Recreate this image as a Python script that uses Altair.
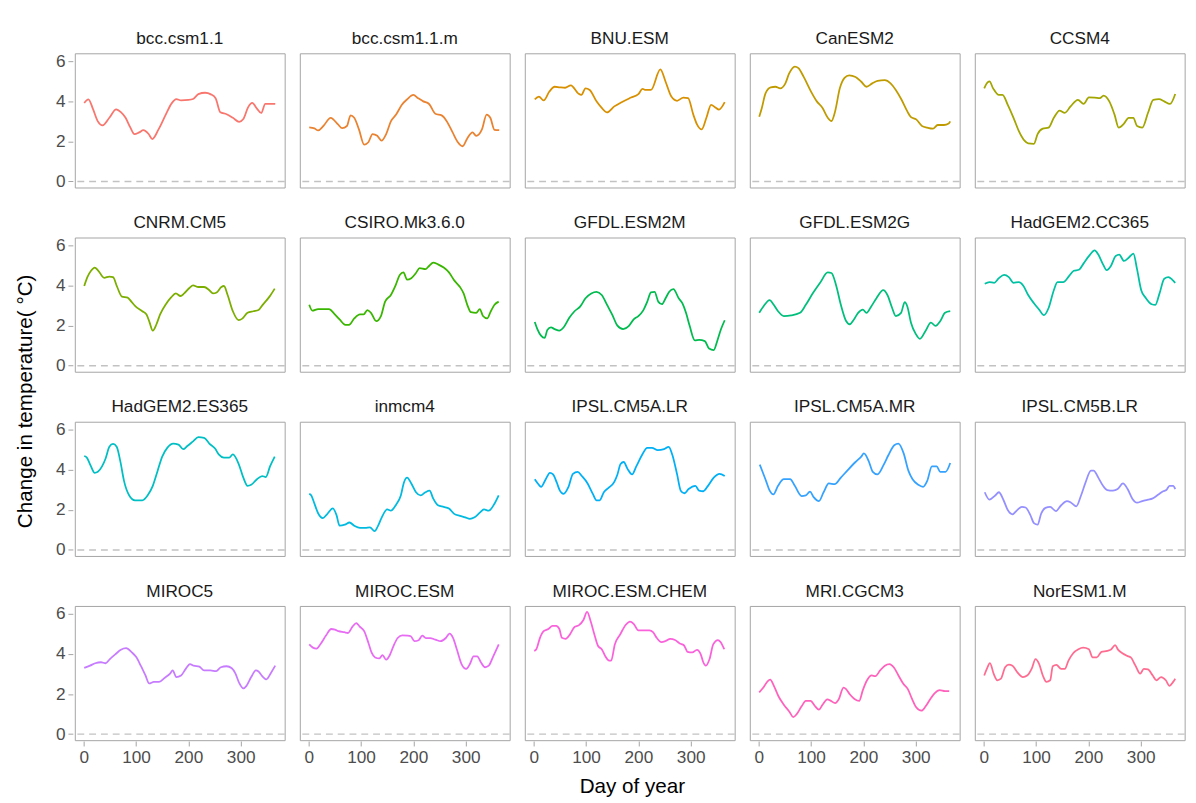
import altair as alt
import pandas as pd

models = ["bcc.csm1.1", "bcc.csm1.1.m", "BNU.ESM", "CanESM2", "CCSM4",
          "CNRM.CM5", "CSIRO.Mk3.6.0", "GFDL.ESM2M", "GFDL.ESM2G", "HadGEM2.CC365",
          "HadGEM2.ES365", "inmcm4", "IPSL.CM5A.LR", "IPSL.CM5A.MR", "IPSL.CM5B.LR",
          "MIROC5", "MIROC.ESM", "MIROC.ESM.CHEM", "MRI.CGCM3", "NorESM1.M"]

colors = ["#F8766D", "#EA8331", "#D89000", "#C09B00", "#A3A500",
          "#7CAE00", "#39B600", "#00BB4E", "#00BF7D", "#00C1A3",
          "#00BFC4", "#00BAE0", "#00B0F6", "#35A2FF", "#9590FF",
          "#C77CFF", "#E76BF3", "#FA62DB", "#FF62BC", "#FF6C91"]

x_ticks = [0, 100, 200, 300]
y_ticks = [0, 2, 4, 6]
x_title = "Day of year"
y_title = "Change in temperature( °C)"

# (day of year, change in temperature)
bcc_csm1_1 = [(1,3.92),(9,4.1),(18,3.6),(27,3.0),(36,2.8),(49,3.18),(62,3.6),(71,3.46),(80,3.18),(89,2.7),(97,2.36),(106,2.45),(114,2.56),(124,2.37),(131,2.12),(143,2.6),(157,3.35),(168,3.9),(177,4.11),(186,4.05),(200,4.07),(209,4.12),(219,4.36),(232,4.43),(243,4.35),(252,4.16),(261,3.46),(273,3.36),(285,3.18),(297,2.98),(305,3.12),(314,3.7),(322,3.92),(331,3.64),(339,3.42),(347,3.88),(358,3.88),(366,3.87)]
bcc_csm1_1_m = [(1,2.7),(11,2.65),(18,2.55),(28,2.77),(42,3.18),(56,2.85),(64,2.66),(73,2.77),(80,3.3),(87,3.18),(96,2.6),(106,1.84),(114,1.96),(122,2.37),(131,2.28),(139,2.04),(148,2.37),(157,3.0),(167,3.34),(178,3.83),(188,4.1),(200,4.32),(209,4.16),(219,4.0),(230,3.87),(242,3.38),(254,3.3),(264,3.0),(275,2.45),(285,1.96),(294,1.76),(303,2.15),(313,2.45),(320,2.28),(331,2.6),(340,3.34),(347,3.18),(355,2.58),(364,2.56)]
BNU_ESM = [(2,4.1),(10,4.24),(19,4.05),(30,4.49),(40,4.73),(50,4.7),(60,4.68),(71,4.8),(85,4.4),(91,4.32),(99,4.65),(107,4.57),(120,4.0),(130,3.67),(140,3.45),(154,3.75),(168,3.96),(186,4.19),(200,4.36),(208,4.62),(214,4.57),(224,4.57),(242,5.6),(252,4.98),(263,4.24),(274,4.03),(286,4.19),(295,4.16),(305,3.34),(312,2.85),(321,2.6),(330,3.18),(339,3.83),(347,3.7),(354,3.59),(365,3.96)]
CanESM2 = [(1,3.23),(6,3.67),(13,4.4),(23,4.7),(32,4.73),(41,4.65),(51,4.9),(58,5.38),(69,5.74),(76,5.66),(86,5.22),(100,4.49),(111,4.0),(122,3.67),(132,3.18),(139,3.02),(146,3.5),(155,4.65),(164,5.17),(173,5.3),(185,5.22),(196,4.98),(206,4.73),(217,4.9),(227,5.02),(241,5.06),(252,4.9),(262,4.57),(273,4.08),(284,3.5),(291,3.21),(301,3.1),(312,2.77),(322,2.69),(333,2.64),(342,2.82),(354,2.82),(363,2.89),(366,3.0)]
CCSM4 = [(1,4.65),(6,4.9),(11,5.0),(18,4.65),(29,4.32),(36,4.32),(46,3.83),(57,3.18),(67,2.53),(78,2.04),(85,1.9),(96,1.88),(103,2.37),(113,2.64),(124,2.69),(134,3.18),(145,3.54),(155,3.43),(166,3.75),(180,4.08),(191,3.87),(201,4.2),(212,4.19),(222,4.16),(229,4.29),(240,4.0),(250,3.34),(258,2.69),(268,2.89),(277,3.18),(286,3.18),(293,2.77),(303,2.69),(314,3.43),(324,4.08),(335,4.11),(345,4.0),(356,3.87),(366,4.37)]
CNRM_CM5 = [(1,3.98),(7,4.42),(14,4.74),(21,4.9),(28,4.74),(39,4.39),(49,4.45),(56,4.42),(64,3.93),(73,3.45),(84,3.4),(91,3.2),(99,2.96),(112,2.72),(120,2.56),(126,2.15),(132,1.75),(139,2.07),(146,2.56),(157,3.07),(167,3.41),(176,3.61),(185,3.48),(192,3.61),(202,3.88),(209,4.01),(219,3.93),(230,3.93),(240,3.77),(247,3.61),(254,3.66),(263,3.93),(268,3.98),(275,3.53),(285,2.72),(296,2.28),(303,2.35),(313,2.64),(324,2.72),(334,2.78),(342,3.04),(355,3.45),(365,3.85)]
CSIRO_Mk3_6_0 = [(1,3.04),(7,2.75),(18,2.83),(28,2.83),(39,2.82),(49,2.59),(59,2.31),(70,2.04),(77,2.04),(87,2.36),(98,2.56),(105,2.56),(112,2.78),(119,2.64),(129,2.23),(138,2.48),(146,3.2),(157,3.53),(166,4.01),(174,4.53),(181,4.66),(188,4.3),(196,4.37),(205,4.63),(212,4.87),(223,4.82),(230,4.98),(238,5.15),(247,5.06),(258,4.9),(268,4.66),(278,4.26),(289,3.93),(296,3.61),(303,3.04),(310,2.67),(320,2.64),(327,2.83),(333,2.48),(341,2.36),(348,2.72),(355,3.04),(363,3.2)]
GFDL_ESM2M = [(2,2.18),(7,1.83),(14,1.5),(21,1.39),(26,1.78),(33,1.91),(40,1.83),(49,1.75),(57,1.91),(68,2.39),(78,2.72),(89,2.96),(99,3.37),(110,3.61),(120,3.69),(130,3.53),(141,3.0),(150,2.55),(160,2.0),(171,1.83),(182,1.99),(191,2.31),(200,2.48),(209,2.75),(217,3.2),(224,3.66),(231,3.69),(238,3.2),(245,3.07),(252,3.37),(259,3.69),(267,3.82),(277,3.37),(284,3.12),(291,2.64),(298,1.99),(308,1.26),(316,1.29),(327,1.23),(335,0.86),(344,0.78),(351,1.26),(358,1.83),(365,2.27)]
GFDL_ESM2G = [(1,2.64),(9,2.96),(21,3.28),(28,3.07),(37,2.72),(48,2.48),(62,2.51),(79,2.64),(90,3.04),(104,3.64),(118,4.17),(132,4.66),(139,4.63),(148,4.01),(157,3.04),(167,2.23),(174,2.07),(182,2.31),(190,2.64),(199,2.8),(206,2.64),(215,2.96),(225,3.37),(238,3.77),(246,3.53),(255,2.88),(262,2.48),(272,2.64),(279,3.17),(284,2.96),(291,2.15),(300,1.59),(308,1.34),(319,1.75),(329,2.15),(338,1.99),(347,2.23),(356,2.64),(366,2.72)]
HadGEM2_CC365 = [(2,4.09),(11,4.17),(20,4.14),(29,4.37),(39,4.53),(48,4.42),(57,4.14),(67,4.17),(76,3.98),(85,3.53),(96,3.12),(106,2.8),(115,2.52),(124,2.88),(134,3.77),(141,4.17),(152,4.17),(163,4.47),(172,4.74),(182,4.79),(191,5.11),(201,5.47),(212,5.76),(219,5.55),(228,5.06),(235,4.77),(243,4.98),(252,5.47),(259,5.55),(268,5.23),(277,5.39),(286,5.6),(293,4.82),(301,3.77),(310,3.37),(321,3.07),(328,3.04),(336,3.61),(345,4.34),(353,4.42),(360,4.3),(366,4.14)]
HadGEM2_ES365 = [(1,4.69),(6,4.61),(13,4.22),(21,3.85),(27,3.9),(35,4.17),(42,4.58),(49,5.15),(56,5.29),(63,5.15),(70,4.42),(77,3.45),(87,2.72),(98,2.48),(112,2.48),(122,2.72),(132,3.2),(141,3.93),(150,4.66),(160,5.11),(171,5.31),(181,5.26),(190,5.03),(198,5.19),(209,5.42),(219,5.63),(230,5.6),(240,5.31),(251,5.06),(258,4.77),(268,4.61),(278,4.61),(285,4.77),(296,4.3),(305,3.61),(313,3.2),(320,3.25),(331,3.53),(341,3.69),(348,3.64),(356,4.17),(365,4.66)]
inmcm4 = [(1,2.8),(5,2.72),(11,2.31),(18,1.83),(27,1.59),(35,1.78),(46,2.07),(53,1.75),(59,1.21),(69,1.26),(78,1.37),(87,1.21),(98,1.1),(108,1.1),(117,1.13),(126,0.94),(132,1.18),(139,1.59),(150,2.02),(157,1.96),(167,2.26),(176,2.72),(182,3.37),(188,3.61),(196,3.32),(205,2.88),(214,2.72),(223,2.88),(231,2.96),(238,2.56),(247,2.23),(258,2.15),(268,2.07),(278,1.8),(289,1.7),(299,1.63),(308,1.55),(317,1.63),(327,1.86),(335,2.02),(344,1.96),(355,2.31),(363,2.72)]
IPSL_CM5A_LR = [(2,3.53),(9,3.28),(14,3.15),(23,3.53),(31,3.85),(37,3.77),(44,3.37),(50,2.96),(57,2.8),(66,3.12),(75,3.8),(84,3.9),(92,3.69),(103,3.32),(113,2.8),(120,2.48),(126,2.48),(134,2.88),(144,3.12),(154,3.4),(160,3.77),(166,4.29),(172,4.39),(179,4.06),(188,3.77),(196,4.17),(207,4.74),(217,5.1),(226,5.1),(237,4.98),(249,5.03),(258,5.15),(265,4.74),(274,3.77),(281,2.96),(288,2.83),(296,3.04),(309,3.2),(316,2.96),(324,2.93),(333,3.2),(344,3.61),(355,3.8),(365,3.69)]
IPSL_CM5A_MR = [(2,4.26),(7,3.93),(14,3.45),(21,2.96),(28,2.77),(37,3.2),(48,3.53),(60,3.53),(69,3.2),(82,2.69),(90,2.72),(98,2.91),(105,2.64),(115,2.44),(124,2.88),(134,3.32),(145,3.28),(157,3.61),(171,4.01),(185,4.39),(196,4.66),(201,4.82),(210,4.45),(218,3.9),(227,3.77),(239,4.26),(248,4.74),(259,5.23),(267,5.31),(277,4.82),(286,3.96),(294,3.53),(305,3.25),(314,3.15),(322,3.45),(331,4.17),(340,4.17),(347,3.9),(357,3.9),(366,4.34)]
IPSL_CM5B_LR = [(2,2.88),(11,2.51),(22,2.72),(29,2.88),(38,2.48),(46,1.99),(55,1.78),(64,1.99),(73,2.15),(80,2.12),(89,1.75),(96,1.34),(103,1.26),(110,1.83),(118,2.1),(127,2.15),(138,1.94),(148,2.23),(159,2.44),(167,2.36),(177,2.18),(186,2.72),(194,3.32),(205,3.96),(210,3.96),(219,3.61),(228,3.2),(236,2.99),(247,2.96),(256,3.04),(266,3.32),(275,3.04),(284,2.56),(293,2.36),(303,2.44),(314,2.51),(322,2.56),(334,2.77),(343,2.93),(349,2.99),(355,3.2),(362,3.2),(366,3.04)]
MIROC5 = [(1,3.31),(12,3.42),(22,3.54),(33,3.59),(42,3.54),(50,3.75),(61,4.0),(71,4.21),(81,4.29),(92,4.08),(100,3.86),(109,3.42),(118,2.93),(125,2.53),(134,2.61),(144,2.61),(155,2.82),(165,3.02),(170,3.18),(177,2.85),(186,2.93),(195,3.26),(203,3.5),(210,3.42),(221,3.37),(230,3.18),(242,3.18),(253,3.15),(262,3.34),(273,3.39),(283,3.29),(290,3.02),(297,2.56),(305,2.28),(311,2.41),(320,2.85),(329,3.18),(334,3.13),(341,2.9),(349,2.74),(358,3.07),(366,3.42)]
MIROC_ESM = [(1,4.48),(8,4.32),(15,4.27),(22,4.48),(33,4.92),(43,5.25),(50,5.22),(57,5.14),(68,5.09),(75,5.05),(84,5.38),(91,5.54),(97,5.38),(106,5.14),(114,4.56),(120,4.08),(127,3.83),(135,3.78),(141,3.95),(148,3.72),(155,3.95),(162,4.4),(170,4.8),(179,4.93),(189,4.92),(195,4.89),(202,4.64),(210,4.69),(217,4.92),(224,4.8),(232,4.8),(242,4.72),(252,4.64),(262,4.8),(269,5.02),(276,4.8),(283,4.24),(292,3.5),(301,3.26),(308,3.5),(315,3.88),(322,3.88),(329,3.59),(337,3.34),(344,3.42),(353,3.91),(363,4.48)]
MIROC_ESM_CHEM = [(1,4.16),(5,4.24),(12,4.81),(19,5.14),(28,5.25),(36,5.41),(43,5.41),(49,5.25),(54,4.81),(61,4.76),(69,4.97),(78,5.35),(86,5.43),(95,5.7),(102,6.1),(109,5.62),(116,4.97),(123,4.4),(130,4.24),(137,3.88),(144,3.67),(148,3.67),(155,4.48),(165,4.97),(176,5.46),(184,5.62),(191,5.51),(200,5.18),(211,5.18),(221,5.18),(228,5.09),(235,4.81),(244,4.6),(252,4.65),(261,4.76),(270,4.7),(279,4.53),(287,4.44),(294,4.11),(303,4.08),(312,4.21),(319,4.0),(324,3.59),(329,3.42),(336,3.75),(343,4.48),(352,4.7),(357,4.6),(364,4.24)]
MRI_CGCM3 = [(1,2.09),(10,2.37),(17,2.64),(22,2.72),(29,2.41),(38,1.88),(48,1.47),(59,1.11),(66,0.85),(73,1.01),(82,1.39),(90,1.66),(99,1.66),(108,1.39),(115,1.22),(122,1.47),(131,1.74),(138,1.66),(146,1.55),(153,1.74),(162,2.32),(167,2.25),(174,1.99),(183,1.76),(192,1.66),(199,2.2),(207,2.69),(216,2.93),(223,2.9),(232,3.18),(241,3.42),(250,3.5),(258,3.34),(267,2.93),(276,2.53),(285,2.25),(293,1.76),(301,1.34),(311,1.17),(319,1.39),(328,1.76),(336,2.04),(346,2.2),(356,2.15),(364,2.15)]
NorESM1_M = [(1,2.93),(6,3.26),(12,3.55),(19,3.02),(26,2.69),(33,2.77),(41,3.34),(48,3.47),(55,3.42),(64,3.1),(75,2.85),(83,2.93),(92,3.29),(99,3.75),(106,3.5),(113,2.93),(120,2.61),(127,2.69),(132,3.39),(139,3.46),(148,3.26),(155,3.26),(162,3.67),(171,4.04),(181,4.24),(190,4.32),(201,4.24),(208,3.83),(216,3.83),(225,4.11),(236,4.16),(244,4.24),(251,4.44),(257,4.21),(265,4.04),(274,3.91),(281,3.83),(290,3.42),(299,3.02),(306,3.26),(314,3.23),(323,2.93),(330,2.69),(339,2.85),(348,2.69),(355,2.41),(362,2.61),(366,2.77)]

series = [bcc_csm1_1, bcc_csm1_1_m, BNU_ESM, CanESM2, CCSM4,
          CNRM_CM5, CSIRO_Mk3_6_0, GFDL_ESM2M, GFDL_ESM2G, HadGEM2_CC365,
          HadGEM2_ES365, inmcm4, IPSL_CM5A_LR, IPSL_CM5A_MR, IPSL_CM5B_LR,
          MIROC5, MIROC_ESM, MIROC_ESM_CHEM, MRI_CGCM3, NorESM1_M]

rows = []
for name, pts in zip(models, series):
    for d, v in pts:
        rows.append({"model": name, "day": d, "value": v})
df = pd.DataFrame(rows)

FONT = "Liberation Sans"

x_enc = alt.X("day:Q",
              scale=alt.Scale(domain=[-17, 384], nice=False, zero=False),
              axis=alt.Axis(values=x_ticks, title=None))
y_enc = alt.Y("value:Q",
              scale=alt.Scale(domain=[-0.3, 6.4], nice=False, zero=False),
              axis=alt.Axis(values=y_ticks, title=None))

zero = alt.Chart().transform_aggregate(
    n="count()", groupby=["model"]
).mark_rule(color="#c2c2c2", strokeDash=[7, 5], strokeWidth=1.4).encode(y=alt.datum(0))

line = alt.Chart().mark_line(strokeWidth=1.8, interpolate="monotone").encode(
    x=x_enc,
    y=y_enc,
    color=alt.Color("model:N", scale=alt.Scale(domain=models, range=colors), legend=None),
)

facets = alt.layer(zero, line).properties(
    width=213.6, height=136.6
).facet(
    facet=alt.Facet("model:N", sort=models, title=None,
                    header=alt.Header(labelFontSize=17.5, labelFont=FONT, labelColor="#1a1a1a",
                                      labelPadding=6)),
    columns=5,
    data=df,
    spacing={"row": 25.5, "column": 12},
).properties(
    title=alt.TitleParams(x_title, orient="bottom", anchor="middle", frame="bounds",
                          fontSize=21, font=FONT, fontWeight="normal", color="#000000",
                          offset=10, dx=12)
)

chart = alt.vconcat(facets).properties(
    title=alt.TitleParams(y_title, orient="left", anchor="middle", frame="bounds",
                          fontSize=21, font=FONT, fontWeight="normal", color="#000000",
                          offset=20, dx=12),
    padding={"left": 7, "top": 15, "right": 2, "bottom": 2},
).configure_view(
    stroke="#a3a3a3", strokeWidth=1
).configure_axis(
    grid=False, domain=False, tickColor="#a3a3a3", tickSize=5, tickWidth=1,
    labelFontSize=17.5, labelColor="#4d4d4d", labelFont=FONT, labelPadding=3,
)

chart.save("out.html", embed_options={"renderer": "svg", "actions": False})
